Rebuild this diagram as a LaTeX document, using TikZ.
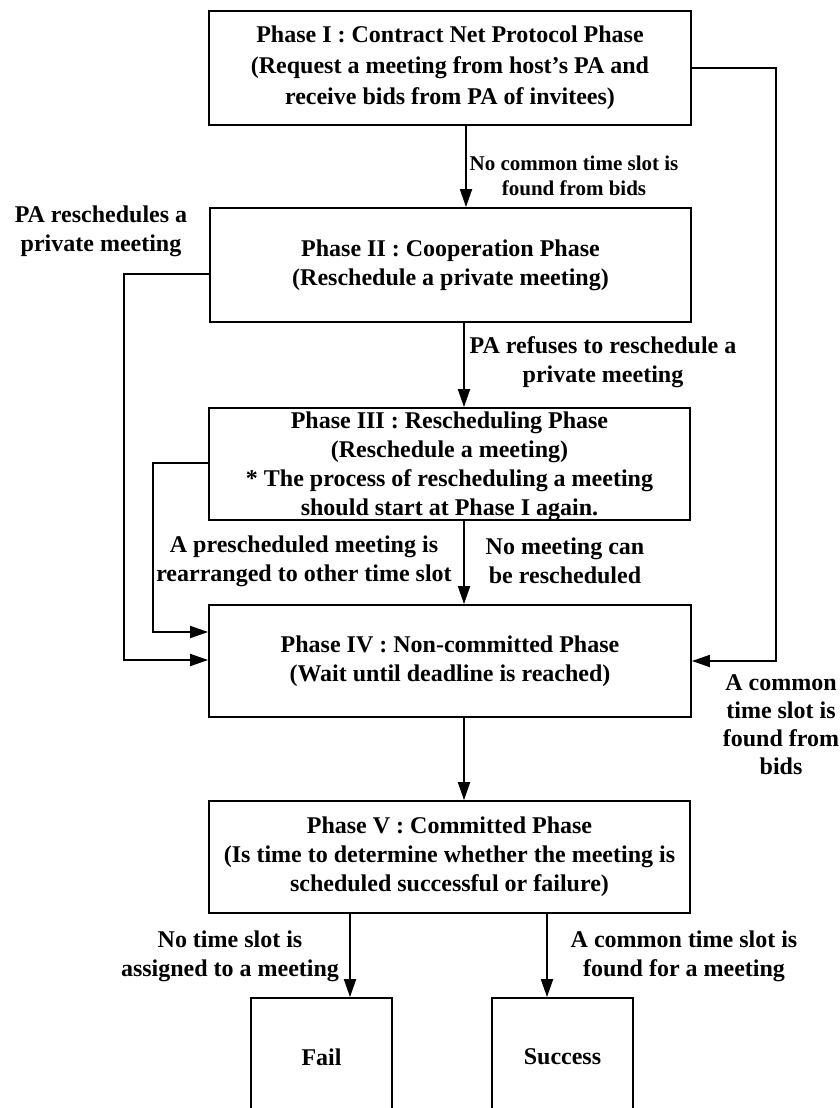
\documentclass[tikz,border=0pt]{standalone}
\usepackage{fontspec}
\setmainfont{Liberation Serif}
\usetikzlibrary{arrows.meta}

\begin{document}
\begin{tikzpicture}[x=1pt,y=-1pt,
  txt/.style={font=\fontsize{24}{29}\selectfont\bfseries},
  phase/.style={txt, draw, line width=1.8pt, align=center, inner sep=0pt},
  lbl/.style={txt, align=center, inner sep=0pt},
  arr/.style={line width=1.8pt, -{Triangle[length=18pt,width=12pt]}}
]
\useasboundingbox (0,0) rectangle (839,1108);
\fill[white] (0,0) rectangle (839,1108);
\clip (0,0) rectangle (839,1108);

% phase boxes
\node[phase, minimum width=482pt, minimum height=114pt, font=\fontsize{24}{31}\selectfont\bfseries] (b1) at (450,68)
  {Phase I : Contract Net Protocol Phase\\(Request a meeting from host's PA and\\receive bids from PA of invitees)};
\node[phase, minimum width=481pt, minimum height=114pt] (b2) at (450.5,265)
  {Phase II : Cooperation Phase\\(Reschedule a private meeting)};
\node[phase, minimum width=481pt, minimum height=112pt, text depth=0pt] (b3) at (449.5,464)
  {Phase III : Rescheduling Phase\\(Reschedule a meeting)\\* The process of rescheduling a meeting\\should start at Phase I again.};
\node[phase, minimum width=482pt, minimum height=112pt] (b4) at (450,661)
  {Phase IV : Non-committed Phase\\(Wait until deadline is reached)};
\node[phase, minimum width=481pt, minimum height=112pt] (b5) at (449.5,857)
  {Phase V : Committed Phase\\(Is time to determine whether the meeting is\\scheduled successful or failure)};

% outcome boxes (run off the lower edge)
\node[phase, minimum width=141pt, minimum height=130pt, text depth=0pt] (fail) at (321.5,1063) {\raisebox{12pt}{Fail}};
\node[phase, minimum width=141pt, minimum height=130pt, text depth=0pt] (succ) at (562.5,1063) {\raisebox{12pt}{Success}};

% x positions of the straight arrows
\coordinate (xa) at (466,0);
\coordinate (xb) at (464,0);
\coordinate (xf) at (350,0);
\coordinate (xs) at (547,0);

\draw[arr] (xa |- b1.south) -- (xa |- b2.north);
\draw[arr] (xb |- b2.south) -- (xb |- b3.north);
\draw[arr] (xb |- b3.south) -- (xb |- b4.north);
\draw[arr] (xb |- b4.south) -- (xb |- b5.north);
\draw[arr] (xf |- b5.south) -- (xf |- fail.north);
\draw[arr] (xs |- b5.south) -- (xs |- succ.north);

% bypass routes into Phase IV
\coordinate (r1) at (776,68);
\coordinate (r2) at (776,661);
\draw[arr] (r1 -| b1.east) -- (r1) -- (r2) -- (r2 -| b4.east);

\coordinate (l1) at (124,274);
\coordinate (l2) at (124,660);
\draw[arr] (l1 -| b2.west) -- (l1) -- (l2) -- (l2 -| b4.west);

\coordinate (m1) at (153,463);
\coordinate (m2) at (153,632);
\draw[arr] (m1 -| b3.west) -- (m1) -- (m2) -- (m2 -| b4.west);

% transition labels
\node[lbl, font=\fontsize{21}{25}\selectfont\bfseries] (t1) at (574,176) {No common time slot is\\found from bids};
\node[lbl] (t2) at (101,231) {PA reschedules a\\private meeting};
\node[lbl] (t3) at (603,362) {PA refuses to reschedule a\\private meeting};
\node[lbl] (t4) at (304,561) {A prescheduled meeting is\\rearranged to other time slot};
\node[lbl] (t5) at (565,561) {No meeting can\\be rescheduled};
\node[lbl, font=\fontsize{24}{28}\selectfont\bfseries] (t6) at (781,725) {A common\\time slot is\\found from\\bids};
\node[lbl] (t7) at (230,956) {No time slot is\\assigned to a meeting};
\node[lbl] (t8) at (684,956) {A common time slot is\\found for a meeting};
\end{tikzpicture}
\end{document}
